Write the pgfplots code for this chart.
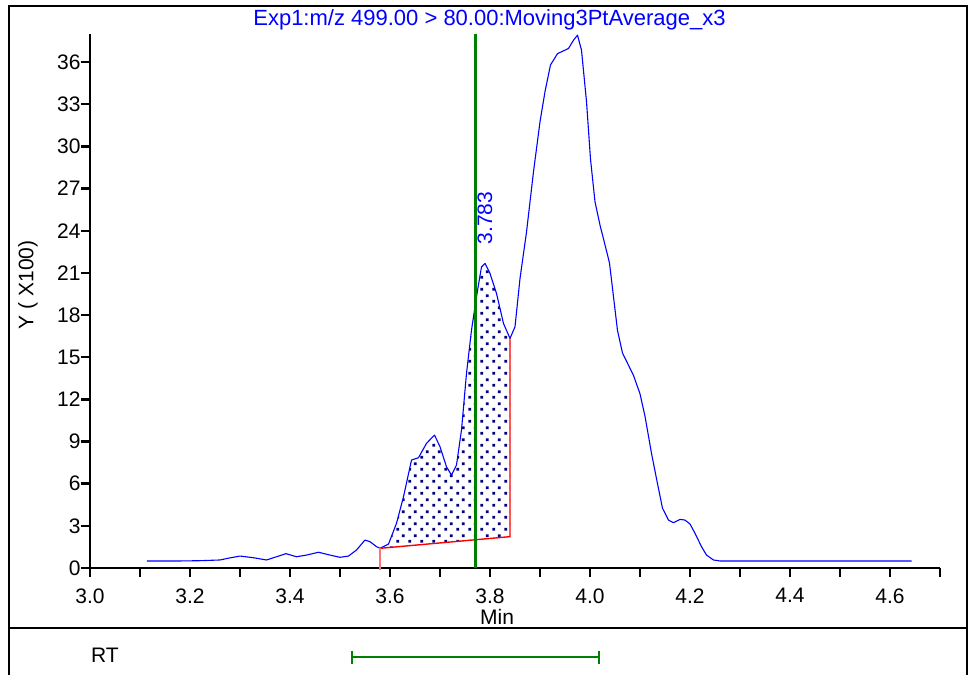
\documentclass[border=0pt]{standalone}
\usepackage{fontspec}
\setmainfont{Liberation Sans}
\usepackage{pgfplots}
\pgfplotsset{compat=1.18}
\usetikzlibrary{patterns}
\pgfdeclarepatternformonly{sqdots}{\pgfpointorigin}{\pgfpoint{6pt}{6pt}}{\pgfpoint{6pt}{6pt}}{%
 \pgfpathrectangle{\pgfpoint{0.2pt}{0.2pt}}{\pgfpoint{1.5pt}{1.5pt}}%
 \pgfpathrectangle{\pgfpoint{3.2pt}{3.2pt}}{\pgfpoint{1.5pt}{1.5pt}}%
 \pgfusepath{fill}}
\definecolor{ngreen}{RGB}{0,128,0}
\definecolor{nblue}{RGB}{0,0,255}
\definecolor{navydot}{RGB}{0,0,128}
\begin{document}
\fontsize{10.5}{12.6}\selectfont
\begin{tikzpicture}
\path[use as bounding box] (-45pt,-53.5pt) rectangle (440.5pt,284pt);
\draw[line width=1pt] (-40.5pt,-60pt) -- (-40.5pt,281pt) -- (438.5pt,281pt) -- (438.5pt,-60pt);
\draw[line width=1pt] (-40.5pt,-30pt) -- (438.5pt,-30pt);
\node at (7.5pt,-43.5pt) {RT};
\begin{axis}[
  scale only axis, width=425pt, height=267pt,
  xmin=3.0, xmax=4.7, ymin=0, ymax=38,
  clip=false,
  axis lines=left,
  axis line style={-, line width=1.2pt},
  tick style={line width=1.2pt, black},
  tick align=outside,
  major tick length=4.5pt, minor tick length=4.5pt,
  xtick={3.0,3.2,3.4,3.6,3.8,4.0,4.2,4.4,4.6},
  minor xtick={3.1,3.3,3.5,3.7,3.9,4.1,4.3,4.5,4.7},
  ytick={0,3,6,9,12,15,18,21,24,27,30,33,36},
  /pgf/number format/assume math mode=true,
  xticklabel style={/pgf/number format/fixed, /pgf/number format/fixed zerofill, /pgf/number format/precision=1, yshift=-2pt},
  yticklabel style={inner xsep=0pt},
  xlabel={Min},
  xlabel style={at={(axis description cs:0.479,-0.092)}, anchor=center},
  ylabel={Y ( X100)},
  ylabel style={at={(axis description cs:-0.073,0.53)}, anchor=center},
  every axis title shift=0pt,
  title={Exp1:m/z 499.00 > 80.00:Moving3PtAverage\_x3},
  title style={at={(axis description cs:0.47,1.026)}, anchor=center, text=nblue, font=\fontsize{11}{13}\selectfont},
]
% integrated area
\addplot[draw=none, pattern=sqdots, pattern color=navydot] coordinates {
(3.58,1.40)(3.597,1.7)(3.613,3.18)(3.627,5.07)(3.643,7.68)(3.657,7.85)(3.673,8.87)
(3.689,9.46)(3.700,8.63)(3.713,7.20)(3.723,6.61)(3.733,7.33)(3.743,9.82)(3.753,13.85)
(3.763,16.93)(3.773,19.30)(3.783,21.43)(3.790,21.67)(3.800,20.96)(3.813,19.54)
(3.827,17.40)(3.840,16.34)(3.840,2.23)(3.58,1.40)} -- cycle;
% chromatogram
\addplot[nblue, line width=0.55pt, line join=round] coordinates {
(3.114,0.50)(3.18,0.50)(3.22,0.52)(3.26,0.57)(3.28,0.72)(3.30,0.85)(3.327,0.73)
(3.353,0.57)(3.373,0.80)(3.392,1.02)(3.413,0.80)(3.433,0.92)(3.457,1.12)(3.48,0.92)
(3.50,0.76)(3.517,0.85)(3.533,1.28)(3.55,1.99)(3.56,1.87)(3.573,1.52)(3.58,1.40)
(3.597,1.7)(3.613,3.18)(3.627,5.07)(3.643,7.68)(3.657,7.85)(3.673,8.87)(3.689,9.46)
(3.700,8.63)(3.713,7.20)(3.723,6.61)(3.733,7.33)(3.743,9.82)(3.753,13.85)(3.763,16.93)
(3.773,19.30)(3.783,21.43)(3.790,21.67)(3.800,20.96)(3.813,19.54)(3.827,17.40)
(3.840,16.34)(3.850,17.16)(3.86,20.6)(3.873,23.9)(3.887,28.2)(3.90,31.75)(3.91,33.9)
(3.921,35.8)(3.935,36.6)(3.957,36.97)(3.967,37.56)(3.975,37.92)(3.983,36.85)
(3.993,33.2)(4.001,29.1)(4.01,26.06)(4.02,24.4)(4.03,23.0)(4.039,21.7)(4.047,19.3)
(4.055,16.9)(4.065,15.3)(4.087,13.7)(4.10,12.4)(4.11,10.8)(4.123,8.16)(4.135,6.0)
(4.145,4.25)(4.157,3.41)(4.167,3.22)(4.18,3.46)(4.19,3.41)(4.20,3.13)(4.21,2.47)
(4.223,1.52)(4.233,0.92)(4.247,0.57)(4.26,0.50)(4.643,0.50)};
% baseline and peak limits
\addplot[red, line width=0.7pt] coordinates {(3.58,1.40)(3.84,2.23)(3.84,16.34)};
\addplot[red!55, line width=0.8pt] coordinates {(3.58,-0.15)(3.58,1.40)};
% retention time marker
\addplot[ngreen, line width=1.5pt] coordinates {(3.77,0)(3.77,38)};
\node[text=nblue, rotate=90, anchor=center] at (axis cs:3.79,24.9) {3.783};
% RT window
\addplot[ngreen, line width=1.2pt] coordinates {(3.524,-6.33)(4.018,-6.33)};
\addplot[ngreen, line width=1.2pt] coordinates {(3.524,-5.9)(3.524,-6.8)};
\addplot[ngreen, line width=1.2pt] coordinates {(4.018,-5.9)(4.018,-6.8)};
\end{axis}
\end{tikzpicture}
\end{document}
